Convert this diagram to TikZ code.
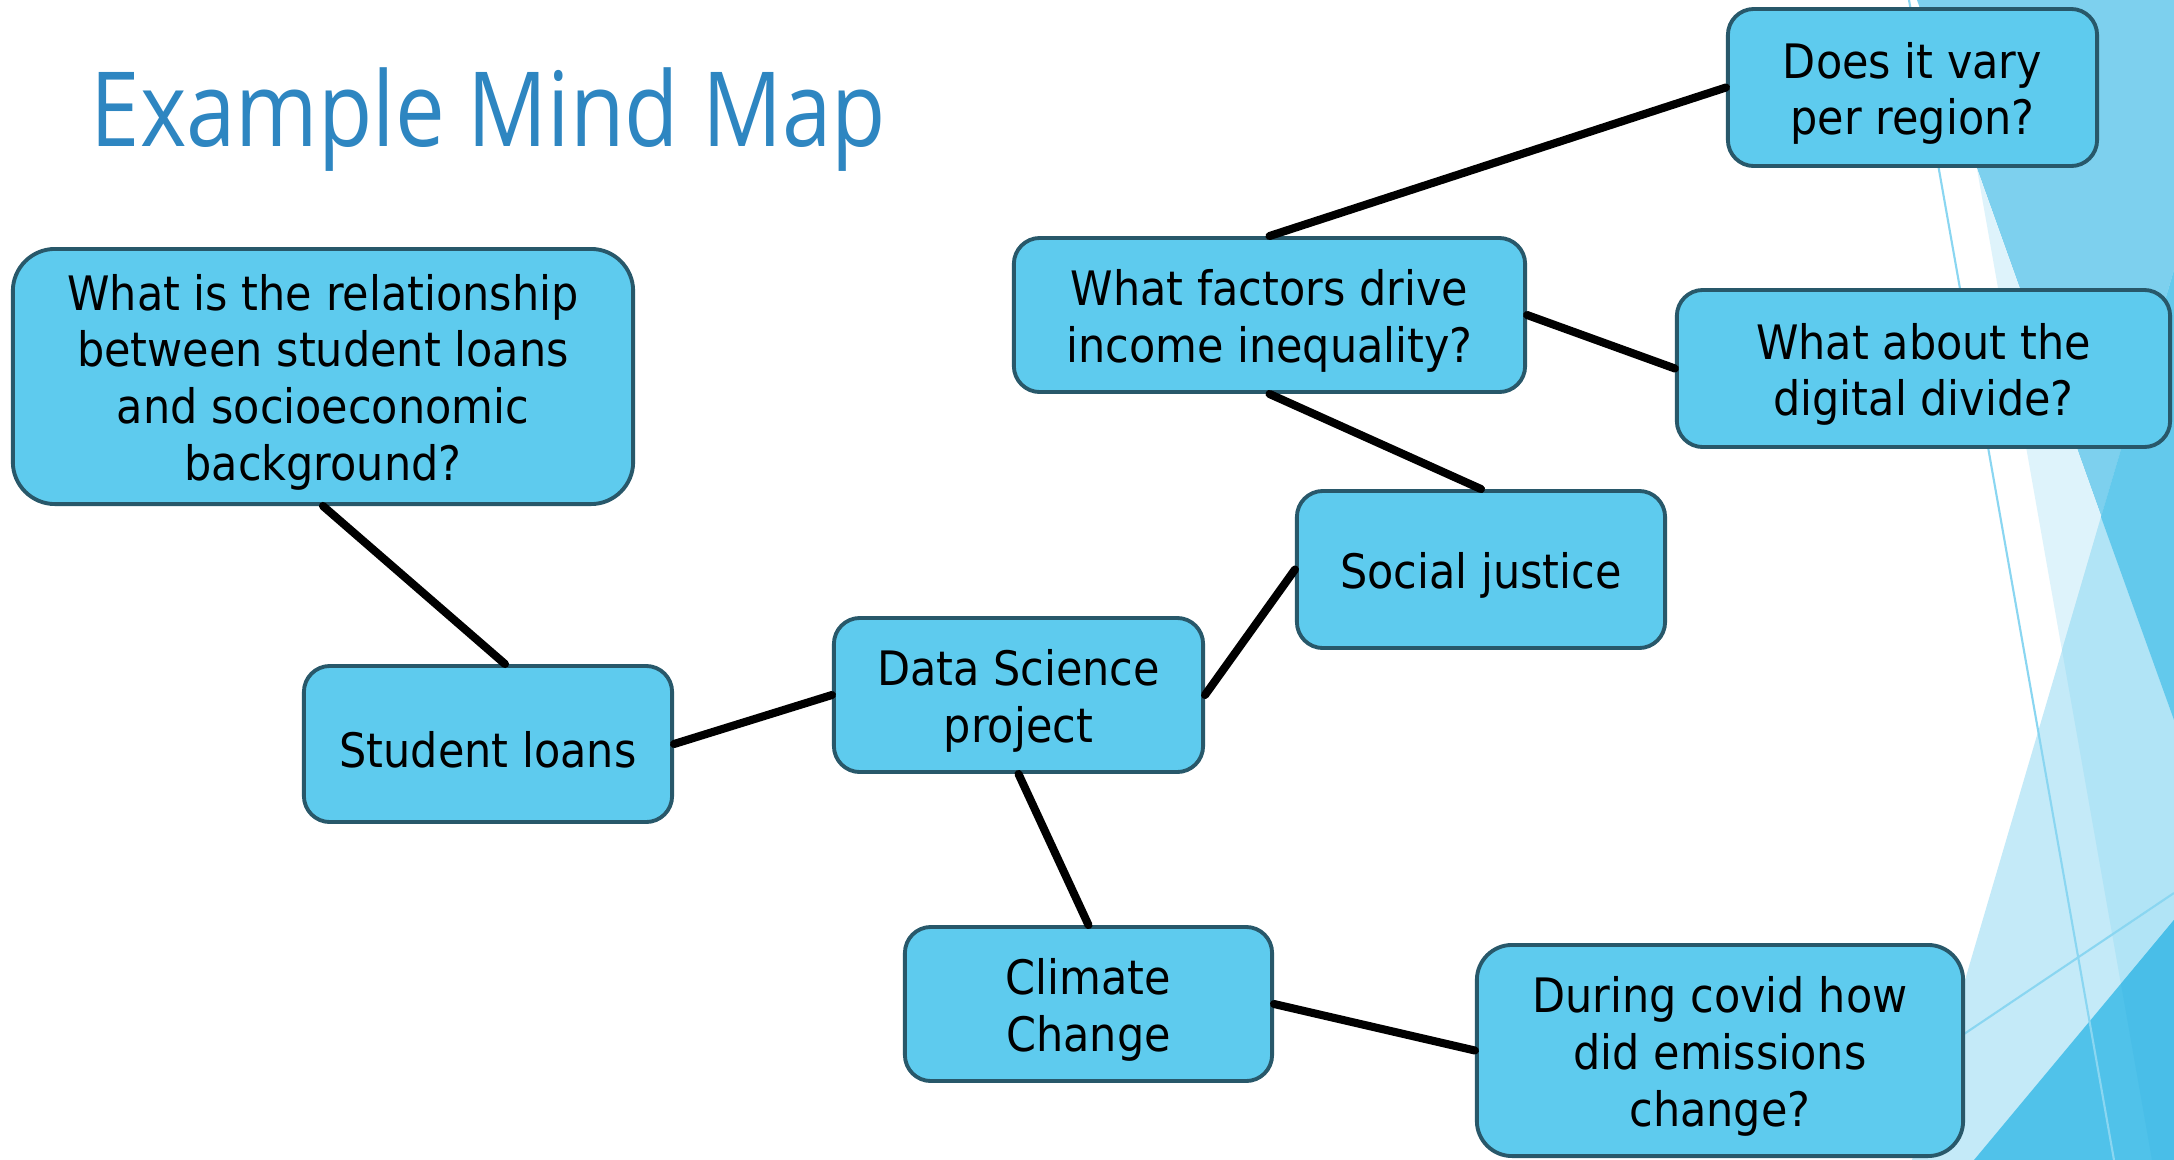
\documentclass[tikz,border=0pt]{standalone}
\usepackage{fontspec}
\setmainfont{DejaVu Sans}[FakeStretch=0.905]
\newfontfamily\titlefont{Open Sans}[FakeStretch=0.855]
\newcommand{\topstrut}{\rule{0pt}{13.6pt}}
\definecolor{boxfill}{RGB}{94,203,238}
\definecolor{boxedge}{RGB}{40,88,106}
\definecolor{titleblue}{RGB}{46,134,193}
\definecolor{facetA}{RGB}{125,208,238}
\definecolor{facetB}{RGB}{222,243,251}
\definecolor{facetC}{RGB}{196,234,248}
\definecolor{facetBC}{RGB}{177,228,246}
\definecolor{facetAC}{RGB}{99,201,236}
\definecolor{facetD}{RGB}{80,194,234}
\definecolor{facetDB}{RGB}{73,190,232}
\definecolor{thinline}{RGB}{138,214,241}
\begin{document}
\begin{tikzpicture}[x=0.01cm,y=-0.01cm,
  box/.style={draw=boxedge, fill=boxfill, line width=1.1pt, rounded corners=7.4pt,
    align=center, inner sep=0pt, text=black,
    font=\fontsize{13.5pt}{16.2pt}\selectfont},
  link/.style={draw=black, line width=2.3pt, line cap=round}]

\useasboundingbox (0,0) rectangle (2174,1160);
\fill[white] (0,0) rectangle (2174,1160);

% faceted background on the right edge
\fill[facetA]  (1917,0) -- (2174,0) -- (2174,720) -- cycle;
\fill[facetB]  (1977,169) -- (2174,720) -- (2174,1160) -- (2152,1160) -- cycle;
\fill[facetC]  (2174,270) -- (2174,1160) -- (1912,1160) -- cycle;
\fill[facetBC] (2101,517) -- (2174,720) -- (2174,1160) -- (2152,1160) -- (2062,650) -- cycle;
\fill[facetAC] (2174,270) -- (2174,720) -- (2101,517) -- cycle;
\fill[facetD]  (1974,1160) -- (2174,920) -- (2174,1160) -- cycle;
\fill[facetDB] (2121,984) -- (2174,920) -- (2174,1160) -- (2152,1160) -- cycle;
\draw[thinline, line width=0.6pt] (1909,0) -- (2114,1160);
\draw[thinline, line width=0.6pt] (1900,1077) -- (2174,893);

% title
\node[anchor=base west, inner sep=0pt, text=titleblue,
  font=\titlefont\fontsize{29.5pt}{34pt}\selectfont] (title) at (90,146) {Example Mind Map};

% topic boxes
\node[box, rounded corners=12pt, minimum width=6.20cm, minimum height=2.55cm] (rel) at (323,376.5)
  {\topstrut What is the relationship\\between student loans\\and socioeconomic\\background?};
\node[box, minimum width=3.68cm, minimum height=1.56cm] (sl) at (488,744) {\topstrut Student loans};
\node[box, minimum width=3.69cm, minimum height=1.54cm] (ds) at (1018.5,695) {\topstrut Data Science\\project};
\node[box, minimum width=3.68cm, minimum height=1.57cm] (sj) at (1481,569.5) {\topstrut Social justice};
\node[box, minimum width=5.11cm, minimum height=1.54cm] (fac) at (1269.5,315) {\topstrut What factors drive\\income inequality?};
\node[box, minimum width=3.69cm, minimum height=1.57cm] (vary) at (1912.5,87.5) {\topstrut Does it vary\\per region?};
\node[box, minimum width=4.93cm, minimum height=1.57cm] (dig) at (1923.5,368.5) {\topstrut What about the\\digital divide?};
\node[box, minimum width=3.67cm, minimum height=1.54cm] (cli) at (1088.5,1004) {\topstrut Climate\\Change};
\node[box, rounded corners=10pt, minimum width=4.86cm, minimum height=2.11cm] (cov) at (1720,1050.5)
  {\topstrut During covid how\\did emissions\\change?};

% connectors
\draw[link] (rel.south) -- ([xshift=0.17cm]sl.north);
\draw[link] (sl.east) -- (ds.west);
\draw[link] (ds.east) -- (sj.west);
\draw[link] (sj.north) -- (fac.south);
\draw[link] (fac.north) -- (vary.west);
\draw[link] (fac.east) -- (dig.west);
\draw[link] (ds.south) -- (cli.north);
\draw[link] (cli.east) -- (cov.west);
\end{tikzpicture}
\end{document}
